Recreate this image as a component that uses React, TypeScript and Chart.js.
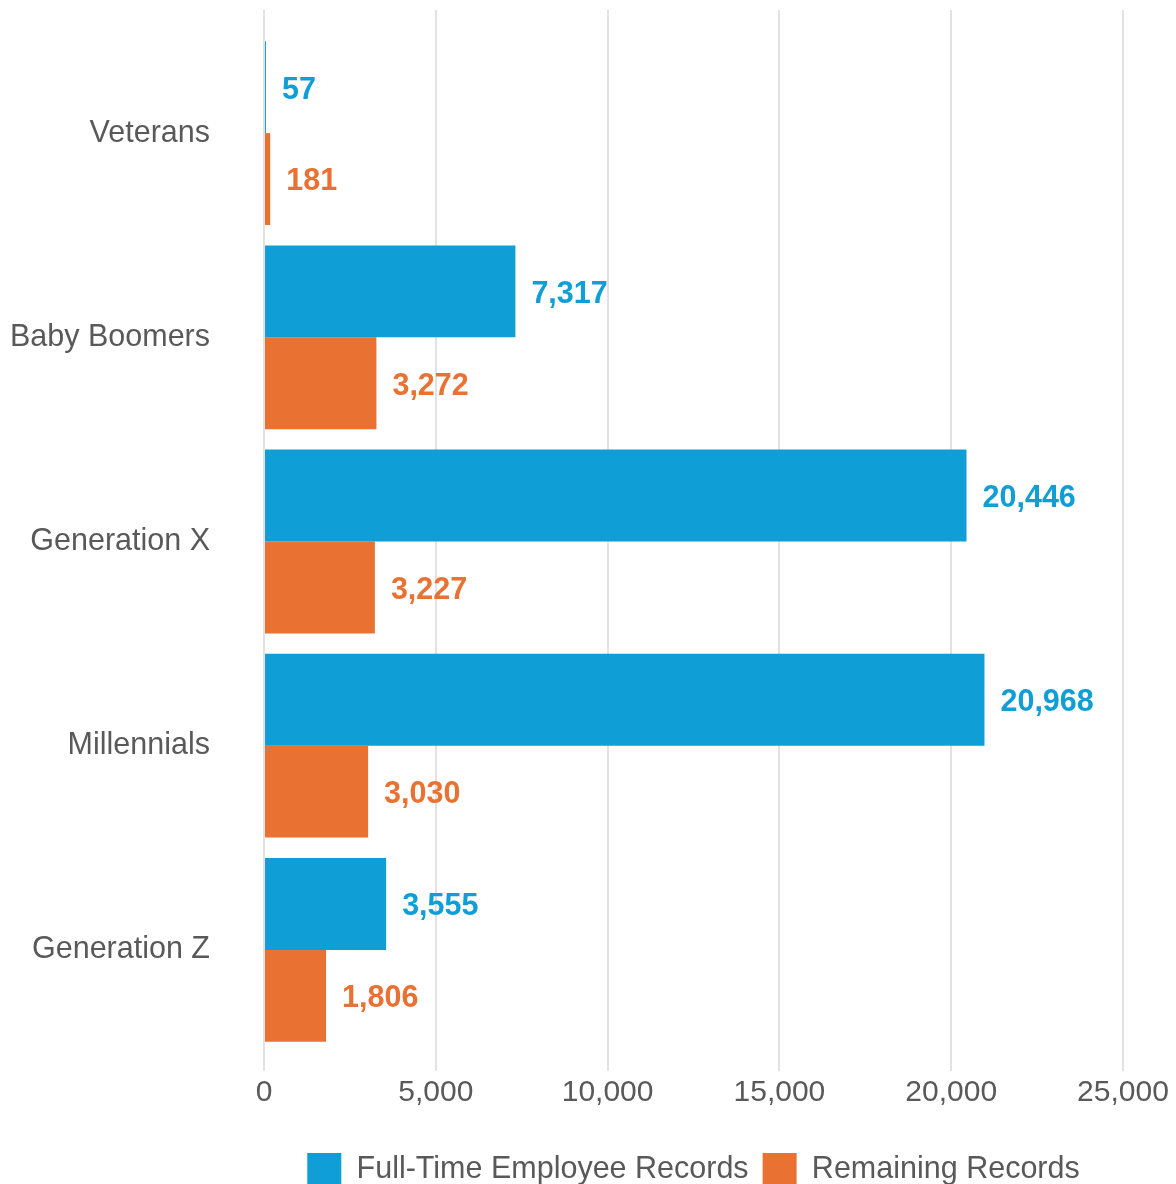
import React, { useEffect, useRef } from "react";
import { Chart, registerables } from "chart.js";

Chart.register(...registerables);

const categories = ["Veterans", "Baby Boomers", "Generation X", "Millennials", "Generation Z"];
const fullTimeRecords = [57, 7317, 20446, 20968, 3555];
const remainingRecords = [181, 3272, 3227, 3030, 1806];
const seriesNames = ["Full-Time Employee Records", "Remaining Records"];
const xTicks = [0, 5000, 10000, 15000, 20000, 25000];

const BLUE = "#0F9ED5";
const ORANGE = "#E97132";
const TEXT = "#595959";
const GRID = "#e2e2e2";
const FONT = "'Liberation Sans', Arial, sans-serif";

const dataLabelPlugin = {
  id: "dataLabels",
  afterDatasetsDraw(chart: any) {
    const ctx = chart.ctx;
    ctx.save();
    ctx.font = `bold 30.5px ${FONT}`;
    ctx.textBaseline = "middle";
    ctx.textAlign = "left";
    chart.data.datasets.forEach((ds: any, i: number) => {
      const meta = chart.getDatasetMeta(i);
      ctx.fillStyle = ds.backgroundColor;
      meta.data.forEach((el: any, j: number) => {
        const v = ds.data[j];
        ctx.fillText(Number(v).toLocaleString("en-US"), el.x + 16, el.y + 3);
      });
    });
    ctx.restore();
  },
};

const gridExtendPlugin = {
  id: "gridExtend",
  beforeDatasetsDraw(chart: any) {
    const ctx = chart.ctx;
    const xs = chart.scales.x;
    ctx.save();
    ctx.strokeStyle = GRID;
    ctx.lineWidth = 2;
    xs.ticks.forEach((t: any) => {
      const x = Math.round(xs.getPixelForValue(t.value));
      ctx.beginPath();
      ctx.moveTo(x, 10);
      ctx.lineTo(x, chart.chartArea.top);
      ctx.stroke();
    });
    ctx.restore();
  },
};

export default function App() {
  const ref = useRef<HTMLCanvasElement>(null);
  useEffect(() => {
    if (!ref.current) return;
    const chart = new Chart(ref.current, {
      type: "bar",
      data: {
        labels: categories,
        datasets: [
          {
            label: seriesNames[0],
            data: fullTimeRecords,
            backgroundColor: BLUE,
            categoryPercentage: 0.9,
            barPercentage: 1.0,
          },
          {
            label: seriesNames[1],
            data: remainingRecords,
            backgroundColor: ORANGE,
            categoryPercentage: 0.9,
            barPercentage: 1.0,
          },
        ],
      },
      options: {
        indexAxis: "y",
        animation: false,
        responsive: false,
        devicePixelRatio: 1,
        layout: { padding: { top: 31, right: 53, left: 0, bottom: -13 } },
        scales: {
          x: {
            min: 0,
            max: 25000,
            afterBuildTicks: (scale: any) => {
              scale.ticks = xTicks.map((v) => ({ value: v }));
            },
            afterFit: (scale: any) => {
              scale.height = 87;
            },
            grid: { color: GRID, lineWidth: 2, tickLength: 19, drawTicks: true, tickColor: GRID },
            border: { display: false },
            ticks: {
              color: TEXT,
              font: { family: FONT, size: 30 },
              padding: 4,
              maxRotation: 0,
              callback: (v: any) => Number(v).toLocaleString("en-US"),
            },
          },
          y: {
            grid: { display: false, drawTicks: false },
            border: { display: false },
            afterFit: (scale: any) => {
              scale.width = 264;
              scale.paddingTop = 0;
              scale.paddingBottom = 0;
            },
            ticks: {
              color: TEXT,
              font: { family: FONT, size: 30.5 },
              padding: 54,
            },
          },
        },
        plugins: {
          legend: {
            position: "bottom",
            fullSize: false,
            labels: {
              boxWidth: 34,
              boxHeight: 34,
              padding: 14,
              color: TEXT,
              font: { family: FONT, size: 30.5 },
            },
          },
          tooltip: { enabled: false },
        },
      },
      plugins: [gridExtendPlugin, dataLabelPlugin],
    });
    return () => chart.destroy();
  }, []);
  return (
    <div style={{ position: "fixed", top: 0, left: 0, width: 1176, height: 1184, background: "#fff" }}>
      <canvas ref={ref} width={1176} height={1184} style={{ display: "block" }} />
    </div>
  );
}
